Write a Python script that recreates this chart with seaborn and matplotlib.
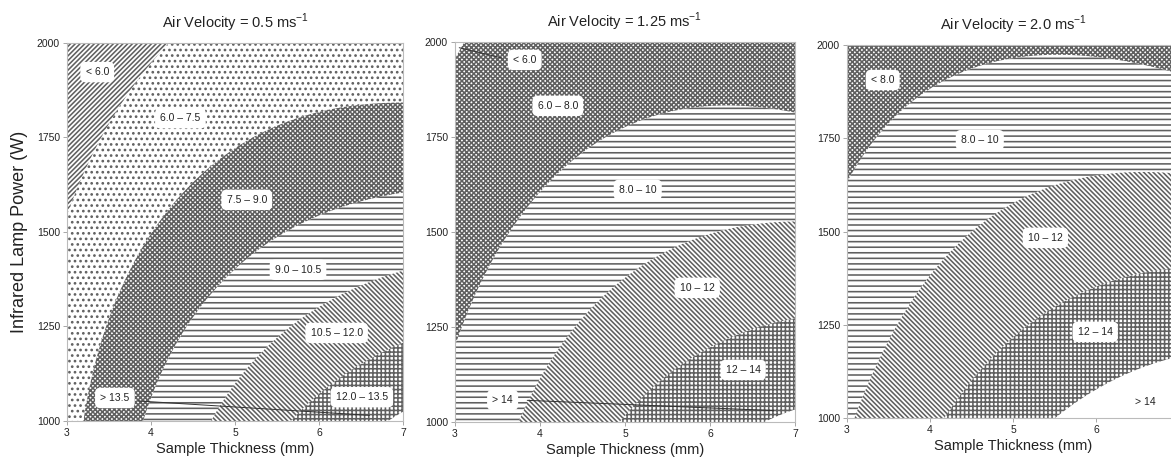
import numpy as np
import matplotlib
matplotlib.use("Agg")
import matplotlib.pyplot as plt
import seaborn as sns

sns.set_theme(style="white")
plt.rcParams["font.family"] = ["Liberation Sans", "DejaVu Sans"]
plt.rcParams["hatch.color"] = "#606060"
plt.rcParams["hatch.linewidth"] = 1.15

# ---------------- data ----------------
titles = ["Air Velocity = 0.5 ms$^{\\mathregular{-1}}$",
          "Air Velocity = 1.25 ms$^{\\mathregular{-1}}$",
          "Air Velocity = 2.0 ms$^{\\mathregular{-1}}$"]
x_ticks = [3, 4, 5, 6, 7]
y_ticks = [1000, 1250, 1500, 1750, 2000]

# Panel 1 (0.5 m/s): points on the contour boundaries (thickness mm, power W, value)
p1_thickness = [3.0, 3.45, 4.3,
                3.2, 3.31, 3.79, 4.43, 5.38, 6.2, 7.0,
                3.9, 4.43, 5.21, 6.0, 7.0,
                4.7, 5.38, 6.0, 6.5, 7.0,
                5.65, 5.9, 6.49, 7.0,
                3.0, 3.0, 7.0, 7.0]
p1_power = [1550, 1745, 2000,
            1000, 1116, 1365, 1619, 1762, 1805, 1818,
            1000, 1302, 1497, 1570, 1603,
            1000, 1143, 1270, 1345, 1407,
            1000, 1063, 1169, 1206,
            1000, 2000, 2000, 1000]
p1_value = [6.0, 6.0, 6.0,
            7.5, 7.5, 7.5, 7.5, 7.5, 7.5, 7.5,
            9.0, 9.0, 9.0, 9.0, 9.0,
            10.5, 10.5, 10.5, 10.5, 10.5,
            12.0, 12.0, 12.0, 12.0,
            7.1, 5.0, 6.8, 13.7]
p1_levels = [6.0, 7.5, 9.0, 10.5, 12.0, 13.5]
p1_labels = ["< 6.0", "6.0 – 7.5", "7.5 – 9.0", "9.0 – 10.5",
             "10.5 – 12.0", "12.0 – 13.5", "> 13.5"]
p1_label_x = [3.36, 4.35, 5.14, 5.75, 6.21, 6.51, 3.57]
p1_label_y = [1923, 1801, 1585, 1400, 1233, 1063, 1061]

# Panel 2 (1.25 m/s)
p2_thickness = [3.0, 3.12,
                3.0, 3.29, 3.8, 4.44, 4.98, 5.76, 6.94,
                3.8, 4.27, 4.98, 5.76, 6.94,
                4.98, 5.5, 5.96, 6.94,
                3.0, 3.0, 7.0, 7.0]
p2_power = [1960, 2000,
            1165, 1321, 1584, 1716, 1760, 1787, 1800,
            1000, 1189, 1408, 1497, 1532,
            1013, 1118, 1197, 1263,
            1000, 2000, 2000, 1000]
p2_value = [6.0, 6.0,
            8.0, 8.0, 8.0, 8.0, 8.0, 8.0, 8.0,
            10.0, 10.0, 10.0, 10.0, 10.0,
            12.0, 12.0, 12.0, 12.0,
            8.7, 5.9, 7.0, 14.3]
p2_levels = [6.0, 8.0, 10.0, 12.0, 14.0]
p2_labels = ["< 6.0", "6.0 – 8.0", "8.0 – 10", "10 – 12", "12 – 14", "> 14"]
p2_label_x = [3.82, 4.21, 5.15, 5.85, 6.39, 3.56]
p2_label_y = [1953, 1832, 1611, 1353, 1137, 1058]

# Panel 3 (2.0 m/s)
p3_thickness = [3.0, 3.4, 3.88, 4.28, 5.0, 6.0, 6.61, 6.89,
                3.07, 3.52, 4.0, 4.6, 5.24, 6.2, 6.89,
                4.2, 4.6, 5.17, 5.6, 6.2, 6.89,
                5.57, 6.13, 6.89,
                3.0, 3.0, 7.0, 7.0]
p3_power = [1638, 1764, 1879, 1933, 1952, 1950, 1933, 1906,
            1003, 1174, 1343, 1539, 1619, 1646, 1657,
            1003, 1129, 1255, 1335, 1370, 1397,
            1003, 1094, 1155,
            1000, 2000, 2000, 1000]
p3_value = [8.0, 8.0, 8.0, 8.0, 8.0, 8.0, 8.0, 8.0,
            10.0, 10.0, 10.0, 10.0, 10.0, 10.0, 10.0,
            12.0, 12.0, 12.0, 12.0, 12.0, 12.0,
            14.0, 14.0, 14.0,
            9.9, 7.0, 7.7, 15.5]
p3_levels = [8.0, 10.0, 12.0, 14.0]
p3_labels = ["< 8.0", "8.0 – 10", "10 – 12", "12 – 14", "> 14"]
p3_label_x = [3.43, 4.6, 5.39, 5.99, 6.59]
p3_label_y = [1906, 1745, 1483, 1231, 1043]


# ---------------- helpers ----------------
def _terms(u, w):
    return np.stack([np.ones_like(u), u, w, u * u, u * w, w * w,
                     u ** 3, u * u * w, u * w * w, w ** 3], axis=-1)


def response_surface(tx, pw, val, X, Y):
    u = (np.asarray(tx, float) - 3.0) / 4.0
    w = (np.asarray(pw, float) - 1000.0) / 1000.0
    coef, *_ = np.linalg.lstsq(_terms(u, w), np.asarray(val, float), rcond=None)
    U = (X - 3.0) / 4.0
    W = (Y - 1000.0) / 1000.0
    return _terms(U, W) @ coef


xs = np.linspace(3, 7, 300)
ys = np.linspace(1000, 2000, 300)
X, Y = np.meshgrid(xs, ys)

fig = plt.figure(figsize=(11.71, 4.62), dpi=100)
W_, H_ = 1171.0, 462.0
boxes = [(67, 403, 43, 421), (455, 795, 42, 422), (847, 1179, 45, 418)]
axes = [fig.add_axes([l / W_, 1 - b / H_, (r - l) / W_, (b - t) / H_]) for l, r, t, b in boxes]

CHECK = "x" * 7
DOTS = "..."
HORIZ = "---"
BACK = "\\" * 7
FWD = "/" * 7
GRID = "++++"
HATCH_COLOR = "#606060"

panels = [
    (p1_thickness, p1_power, p1_value, p1_levels,
     [FWD, DOTS, CHECK, HORIZ, BACK, GRID, ""], p1_labels, p1_label_x, p1_label_y),
    (p2_thickness, p2_power, p2_value, p2_levels,
     ["", CHECK, HORIZ, BACK, GRID, ""], p2_labels, p2_label_x, p2_label_y),
    (p3_thickness, p3_power, p3_value, p3_levels,
     [CHECK, HORIZ, BACK, GRID, ""], p3_labels, p3_label_x, p3_label_y),
]

for i, (ax, (tx, pw, val, lv, hatches, labs, lx, ly)) in enumerate(zip(axes, panels)):
    ax.set_facecolor("white")
    Z = response_surface(tx, pw, val, X, Y)
    levels = [-100.0] + list(lv) + [100.0]
    cs = ax.contourf(X, Y, Z, levels=levels, colors="none", hatches=hatches)
    cs.set_edgecolor(HATCH_COLOR)
    cs.set_linewidth(0.0)
    for t, px, py in zip(labs, lx, ly):
        ax.text(px, py, t, ha="center", va="center", fontsize=7.5, color="#222222",
                bbox=dict(boxstyle="round,pad=0.5", fc="white", ec="none"), zorder=5)
    ax.set_xlim(3, 7)
    ax.set_ylim(1000, 2000)
    ax.set_xticks(x_ticks if i < 2 else x_ticks[:-1])
    ax.set_yticks(y_ticks)
    ax.tick_params(bottom=True, left=True, length=3, width=0.6, color="#999999",
                   labelsize=7.5, pad=2, labelcolor="#222222")
    for s in ax.spines.values():
        s.set_color("#bbbbbb")
        s.set_linewidth(0.8)
    ax.set_title(titles[i], fontsize=10.5, pad=11, color="#222222")
    ax.set_xlabel("Sample Thickness (mm)", fontsize=10.5, labelpad=3, color="#222222")

# leader lines
axes[0].plot([3.85, 6.6], [1053, 1015], color="#333333", lw=0.7, zorder=4)
axes[1].plot([3.85, 6.75], [1057, 1030], color="#333333", lw=0.7, zorder=4)
axes[1].plot([3.55, 3.05], [1958, 1985], color="#333333", lw=0.7, zorder=4)

axes[0].set_ylabel("Infrared Lamp Power (W)", fontsize=13, labelpad=6, color="#222222")

fig.savefig("out.png", dpi=100)
